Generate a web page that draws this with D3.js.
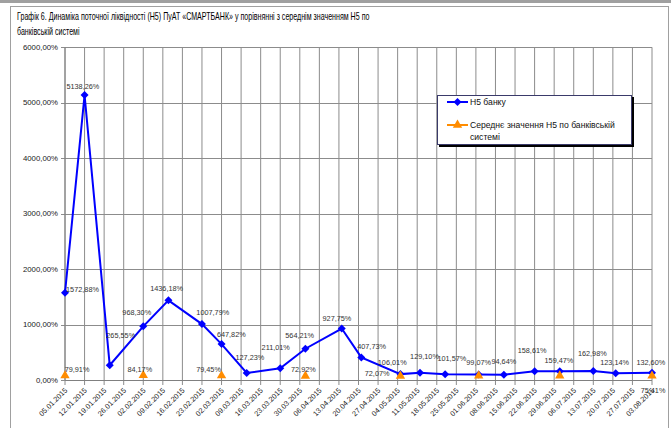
<!DOCTYPE html>
<html>
<head>
<meta charset="utf-8">
<script src="https://cdn.jsdelivr.net/npm/d3@7"></script>
<style>
  body { margin: 0; background: #fff; }
  svg { display: block; font-family: "Liberation Sans", Arial, sans-serif; }
</style>
</head>
<body>
<svg id="chart"></svg>
<script>
/* data */
const bankDates = ['05.01.2015', '12.01.2015', '21.01.2015', '02.02.2015', '11.02.2015', '23.02.2015',
  '02.03.2015', '11.03.2015', '23.03.2015', '01.04.2015', '14.04.2015', '21.04.2015', '05.05.2015',
  '12.05.2015', '21.05.2015', '02.06.2015', '11.06.2015', '22.06.2015', '01.07.2015', '13.07.2015',
  '21.07.2015', '03.08.2015'];
const bankValues = [1572.88, 5138.26, 265.55, 968.30, 1436.18, 1007.79, 647.82, 127.23, 211.01, 564.21,
  927.75, 407.73, 106.01, 129.10, 101.57, 99.07, 94.64, 158.61, 159.47, 162.98, 123.14, 132.60];

const avgDates = ['05.01.2015', '02.02.2015', '02.03.2015', '01.04.2015', '05.05.2015', '02.06.2015',
  '01.07.2015', '03.08.2015'];
const avgValues = [79.91, 84.17, 79.45, 72.92, 72.07, 77.5, 76.2, 75.41];
const avgShown = [true, true, true, true, true, false, false, true];

const tickLabels = ['05.01.2015', '12.01.2015', '19.01.2015', '26.01.2015', '02.02.2015', '09.02.2015',
  '16.02.2015', '23.02.2015', '02.03.2015', '09.03.2015', '16.03.2015', '23.03.2015', '30.03.2015',
  '06.04.2015', '13.04.2015', '20.04.2015', '27.04.2015', '04.05.2015', '11.05.2015', '18.05.2015',
  '25.05.2015', '01.06.2015', '08.06.2015', '15.06.2015', '22.06.2015', '29.06.2015', '06.07.2015',
  '13.07.2015', '20.07.2015', '27.07.2015', '03.08.2015'];
const yTicks = [0, 1000, 2000, 3000, 4000, 5000, 6000];

const titleLines = ['Графік 6.  Динаміка поточної ліквідності (Н5) ПуАТ «СМАРТБАНК» у порівнянні з середнім значенням Н5 по',
  'банківській системі'];
const seriesNames = ['Н5 банку', 'Середнє значення Н5 по банківській', 'системі'];

// hand placed label nudges (label centre relative to its point)
const bankNudge = [[17.5, -3.5], [-1.7, -8.3], [11, -29.6], [-6.5, -13.4], [-1.8, -12], [10.8, -11.8],
  [9.8, -9.8], [3.2, -15.6], [-4.5, -21], [-5.7, -13], [-4.8, -10], [10.3, -10.7], [-8.2, -11.8],
  [4.5, -16.8], [6.7, -16], [0, -12], [0, -13], [-2.5, -20.5], [-0.8, -10.5], [-1, -17.7],
  [-1, -10.5], [-1.2, -10.4]];
const avgNudge = [[12, -6], [-3.5, -6], [-13, -6], [-2, -6.7], [-23.3, -2.7], [0, 0], [0, 0], [1, 14.7]];

/* setup */
const W = 671, H = 428;
const plot = { left: 65, right: 652, top: 47.3, bottom: 380 };
const blue = '#0000ff', orange = '#ff8c00';
const parse = d3.utcParse('%d.%m.%Y');
const fmt = v => d3.format('.2f')(v).replace('.', ',') + '%';

const svg = d3.select('#chart').attr('width', W).attr('height', H);

const x = d3.scaleUtc()
  .domain([parse(tickLabels[0]), parse(tickLabels[tickLabels.length - 1])])
  .range([plot.left, plot.right]);
const y = d3.scaleLinear().domain([0, 6000]).range([plot.bottom, plot.top]);

/* frame */
svg.append('rect').attr('x', 0).attr('y', 0).attr('width', W).attr('height', 3).attr('fill', '#a0a0a0');
svg.append('rect').attr('x', 10.5).attr('y', 6.5).attr('width', 658).attr('height', 430)
  .attr('fill', 'none').attr('stroke', '#a0a0a0');

/* title – squeezed horizontally like the narrow original font */
const title = svg.append('g').selectAll('text').data(titleLines).join('text')
  .attr('x', 0).attr('y', 0)
  .attr('font-size', 10).attr('fill', '#000')
  .text(d => d);
const sx = 353 / title.node().getComputedTextLength();
title.attr('transform', (d, i) => `translate(17,${20 + i * 15}) scale(${sx},1)`);

/* gridlines */
const grid = svg.append('g').attr('stroke', '#8c8c8c').attr('stroke-width', 1);
grid.selectAll('.vg').data(tickLabels).join('line')
  .attr('x1', d => x(parse(d))).attr('x2', d => x(parse(d)))
  .attr('y1', plot.top).attr('y2', plot.bottom + 5);
grid.selectAll('.hg').data(yTicks).join('line')
  .attr('x1', plot.left - 4).attr('x2', plot.right)
  .attr('y1', d => Math.round(y(d)) + 0.5).attr('y2', d => Math.round(y(d)) + 0.5);

/* axes */
svg.append('line').attr('x1', plot.left).attr('x2', plot.left)
  .attr('y1', plot.top).attr('y2', plot.bottom).attr('stroke', '#808080');
svg.append('line').attr('x1', plot.left).attr('x2', plot.right)
  .attr('y1', plot.bottom + 0.5).attr('y2', plot.bottom + 0.5).attr('stroke', '#808080');

svg.append('g').selectAll('text').data(yTicks).join('text')
  .attr('x', 58).attr('y', d => y(d)).attr('dy', '0.35em')
  .attr('text-anchor', 'end').attr('font-size', 7.8).attr('fill', '#222')
  .text(d => fmt(d));

svg.append('g').selectAll('text').data(tickLabels).join('text')
  .attr('transform', d => `translate(${x(parse(d)) + 1},${plot.bottom + 9}) rotate(-45)`)
  .attr('dy', '0.35em')
  .attr('text-anchor', 'end').attr('font-size', 7.3).attr('fill', '#222')
  .text(d => d);

/* series Н5 банку */
const bank = bankDates.map((d, i) => ({ date: parse(d), value: bankValues[i], nudge: bankNudge[i] }));
const avg = avgDates.map((d, i) => ({ date: parse(d), value: avgValues[i], nudge: avgNudge[i], shown: avgShown[i] }));

svg.append('path').datum(bank)
  .attr('fill', 'none').attr('stroke', blue).attr('stroke-width', 2)
  .attr('d', d3.line().x(d => x(d.date)).y(d => y(d.value)));

const diamond = d3.symbol().type(d3.symbolSquare).size(32);
svg.append('g').selectAll('path').data(bank).join('path')
  .attr('d', diamond)
  .attr('transform', d => `translate(${x(d.date)},${y(d.value)}) rotate(45)`)
  .attr('fill', blue);

/* series середнє */
const tri = d3.symbol().type(d3.symbolTriangle).size(38);
svg.append('g').selectAll('path').data(avg).join('path')
  .attr('d', tri)
  .attr('transform', d => `translate(${x(d.date)},${y(d.value)})`)
  .attr('fill', orange);

/* data labels */
const lbl = svg.append('g').attr('font-size', 7.3).attr('fill', '#333').attr('text-anchor', 'middle');
lbl.selectAll('.bl').data(bank).join('text')
  .attr('x', d => x(d.date) + d.nudge[0]).attr('y', d => y(d.value) + d.nudge[1])
  .attr('dy', '0.35em').text(d => fmt(d.value));
lbl.selectAll('.al').data(avg.filter(d => d.shown)).join('text')
  .attr('x', d => x(d.date) + d.nudge[0]).attr('y', d => y(d.value) + d.nudge[1])
  .attr('dy', '0.35em').text(d => fmt(d.value));

/* legend */
const lg = svg.append('g').attr('transform', 'translate(437,95)');
lg.append('rect').attr('x', 2).attr('y', 2).attr('width', 195).attr('height', 50).attr('fill', '#000');
lg.append('rect').attr('x', 0.5).attr('y', 0.5).attr('width', 194).attr('height', 49)
  .attr('fill', '#fff').attr('stroke', '#3a3a6a');
lg.append('line').attr('x1', 10).attr('x2', 31).attr('y1', 7).attr('y2', 7)
  .attr('stroke', blue).attr('stroke-width', 2);
lg.append('path').attr('d', diamond).attr('transform', 'translate(20.5,7) rotate(45)').attr('fill', blue);
lg.append('line').attr('x1', 10).attr('x2', 31).attr('y1', 30).attr('y2', 30)
  .attr('stroke', orange).attr('stroke-width', 2);
lg.append('path').attr('d', tri).attr('transform', 'translate(20.5,30)').attr('fill', orange);
lg.append('g').selectAll('text').data(seriesNames).join('text')
  .attr('x', 33).attr('y', (d, i) => [7, 30, 42][i]).attr('dy', '0.35em')
  .attr('font-size', 8.6).attr('fill', '#111')
  .text(d => d);
</script>
</body>
</html>
